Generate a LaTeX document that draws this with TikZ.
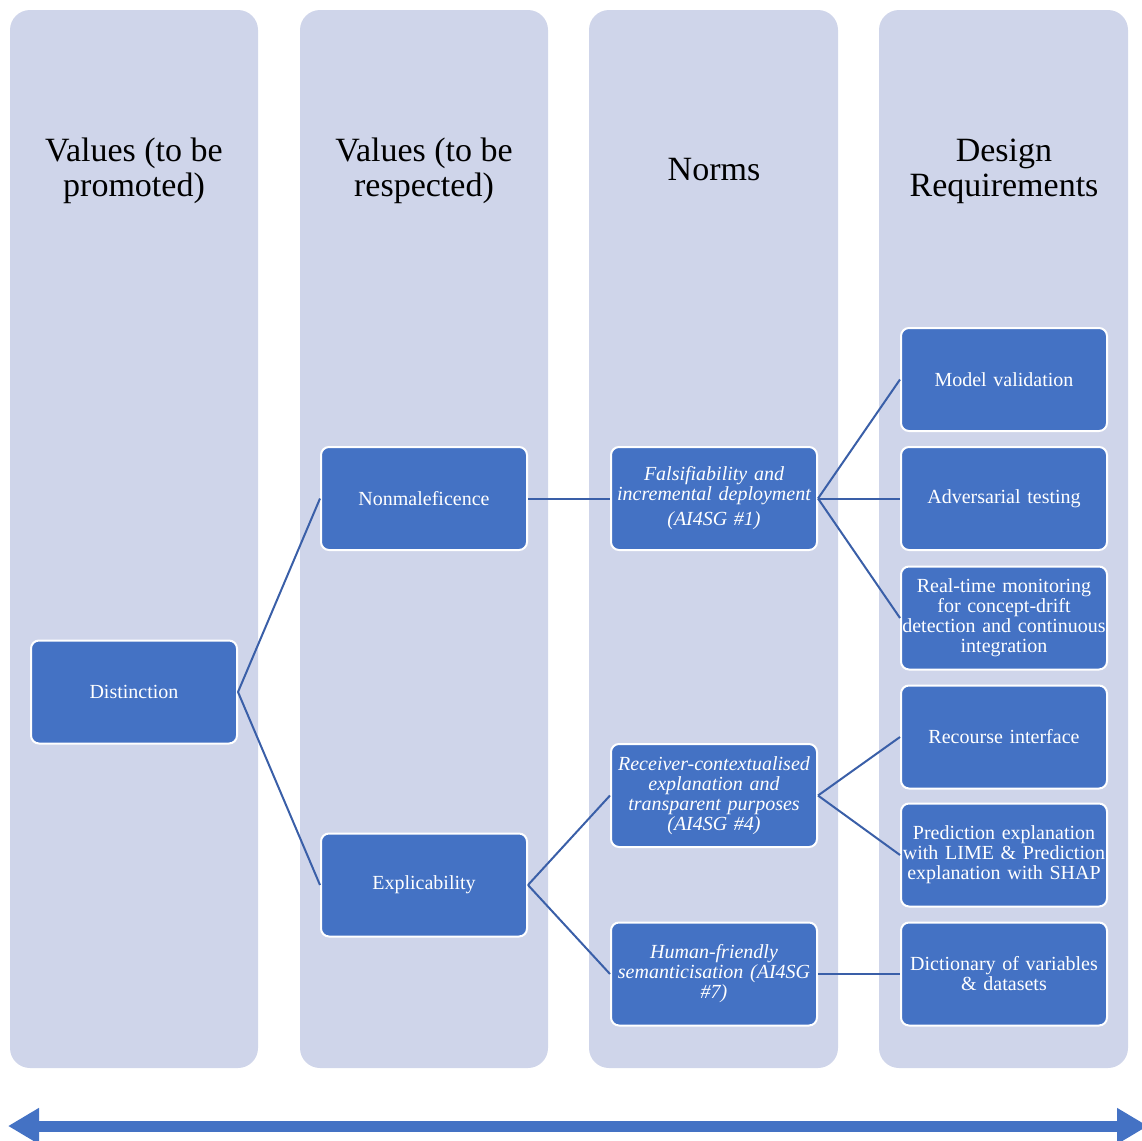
\documentclass[tikz,border=0pt]{standalone}
\usepackage{fontspec}
\setmainfont{Liberation Serif}
\usetikzlibrary{arrows.meta}
\definecolor{panelfill}{HTML}{CFD5EA}
\definecolor{boxfill}{HTML}{4472C4}
\definecolor{linkcol}{HTML}{3A5FA8}
\tikzset{
  panel/.style={fill=panelfill, draw=none, rounded corners=20pt},
  heading/.style={align=center, font=\fontsize{34}{35}\selectfont, inner sep=0pt},
  box/.style={fill=boxfill, draw=white, line width=2pt, rounded corners=8pt,
    minimum width=206pt, minimum height=103pt, inner sep=0pt, text width=204pt,
    align=center, text=white, font=\fontsize{20}{20}\selectfont},
  normbox/.style={box, font=\fontsize{20}{20}\selectfont\itshape},
  link/.style={draw=linkcol, line width=2pt},
  timeline/.style={draw=boxfill, line width=11pt,
    {Triangle[length=31pt,width=34pt]}-{Triangle[length=31pt,width=34pt]}}
}
\begin{document}
\begin{tikzpicture}[x=1pt,y=-1pt]
\useasboundingbox (0,0) rectangle (1141,1141);

% column panels
\fill[panel] (10,10) rectangle (258,1068);
\fill[panel] (300,10) rectangle (548,1068);
\fill[panel] (589,10) rectangle (838,1068);
\fill[panel] (879,10) rectangle (1128,1068);

% column headings
\node[heading] (h1) at (134,171) {Values (to be\\promoted)};
\node[heading] (h2) at (424,171) {Values (to be\\respected)};
\node[heading] (h3) at (714,170) {Norms};
\node[heading] (h4) at (1004,171) {Design\\Requirements};

% values to be promoted
\node[box] (dist) at (134,692) {Distinction};

% values to be respected
\node[box] (nonm) at (424,498.5) {Nonmaleficence};
\node[box] (expl) at (424,885) {Explicability};

% norms
\node[normbox] (fals) at (714,498.5) {Falsifiability and\\incremental deployment\\[5pt](AI4SG \#1)};
\node[normbox] (recv) at (714,795.5) {Receiver-contextualised\\explanation and\\transparent purposes\\(AI4SG \#4)};
\node[normbox] (human) at (714,974) {Human-friendly\\semanticisation (AI4SG\\\#7)};

% design requirements
\node[box] (model) at (1004,379.5) {Model validation};
\node[box] (adv) at (1004,498.5) {Adversarial testing};
\node[box] (rtm) at (1004,618) {Real-time monitoring\\for concept-drift\\detection and continuous\\integration};
\node[box] (recourse) at (1004,737) {Recourse interface};
\node[box] (pred) at (1004,855) {Prediction explanation\\with LIME \& Prediction\\explanation with SHAP};
\node[box] (dict) at (1004,974) {Dictionary of variables\\\& datasets};

% links between levels
\draw[link] (dist.east) -- (nonm.west);
\draw[link] (dist.east) -- (expl.west);
\draw[link] (nonm.east) -- (fals.west);
\draw[link] (expl.east) -- (recv.west);
\draw[link] (expl.east) -- (human.west);
\draw[link] (fals.east) -- (model.west);
\draw[link] (fals.east) -- (adv.west);
\draw[link] (fals.east) -- (rtm.west);
\draw[link] (recv.east) -- (recourse.west);
\draw[link] (recv.east) -- (pred.west);
\draw[link] (human.east) -- (dict.west);

% double-headed timeline arrow
\coordinate (arrL) at (8,1126);
\coordinate (arrR) at (1148,1126);
\draw[timeline] (arrL) -- (arrR);
\end{tikzpicture}
\end{document}
